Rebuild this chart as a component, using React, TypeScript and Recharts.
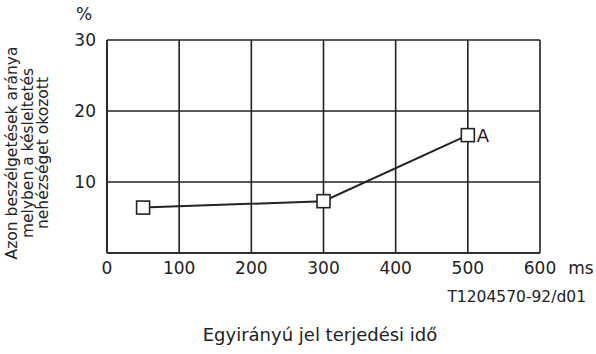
import React from 'react';
import { LineChart, Line, XAxis, YAxis, CartesianGrid, LabelList } from 'recharts';

const delays = [50, 300, 500];
const shares = [6.4, 7.3, 16.6];
const pointLabels = ['', '', 'A'];
const xTicks = [0, 100, 200, 300, 400, 500, 600];
const yTicks = [0, 10, 20, 30];
const yLabelLines = ['Azon beszélgetések aránya', 'melyben a késleltetés', 'nehézséget okozott'];
const xTitle = 'Egyirányú jel terjedési idő';
const refCode = 'T1204570-92/d01';

const data = delays.map((x, i) => ({ x, y: shares[i], label: pointLabels[i] }));

const FONT = '"DejaVu Sans", Arial, sans-serif';
const INK = '#222';

const yLabelX = [12, 28, 43];

const SquareDot = (props: any) => {
  const { cx, cy } = props;
  if (cx == null || cy == null) return null;
  const s = 13;
  return <rect x={cx - s / 2} y={cy - s / 2} width={s} height={s} fill="#fff" stroke={INK} strokeWidth={1.6} />;
};

export default function App() {
  return (
    <div style={{ position: 'absolute', left: 0, top: 0, width: 596, height: 354, background: '#fff' }}>
      <LineChart
        width={596}
        height={354}
        data={data}
        margin={{ top: 40, right: 56, bottom: 71, left: 0 }}
        style={{ fontFamily: FONT }}
      >
        <CartesianGrid stroke={INK} strokeWidth={1.6} />
        <XAxis
          type="number"
          dataKey="x"
          domain={[0, 600]}
          ticks={xTicks}
          height={30}
          tickLine={false}
          axisLine={{ stroke: INK, strokeWidth: 1.6 }}
          tickSize={0}
          tickMargin={9}
          tick={{ fill: INK, fontSize: 17, fontFamily: FONT }}
          interval={0}
        />
        <YAxis
          type="number"
          domain={[0, 30]}
          ticks={yTicks}
          width={107}
          tickLine={false}
          axisLine={{ stroke: INK, strokeWidth: 1.6 }}
          tickSize={0}
          tickMargin={11}
          tick={{ fill: INK, fontSize: 17, fontFamily: FONT }}
          tickFormatter={(v: number) => (v === 0 ? '' : String(v))}
          interval={0}
        />
        <Line
          type="linear"
          dataKey="y"
          stroke={INK}
          strokeWidth={2}
          dot={<SquareDot />}
          activeDot={false}
          isAnimationActive={false}
        >
          <LabelList dataKey="label" position="right" offset={9} fill={INK} fontSize={18} fontFamily={FONT} />
        </Line>
      </LineChart>
      <svg
        width={596}
        height={354}
        style={{ position: 'absolute', left: 0, top: 0, pointerEvents: 'none' }}
        fontFamily={FONT}
      >
        <text x={84} y={14} fontSize={17} fill={INK} textAnchor="middle" dominantBaseline="central">%</text>
        <text x={581} y={268} fontSize={17} fill={INK} textAnchor="middle" dominantBaseline="central">ms</text>
        <text x={586} y={297} fontSize={15.5} fill={INK} textAnchor="end" dominantBaseline="central">{refCode}</text>
        <text x={320} y={341} fontSize={18} fill={INK} textAnchor="middle">{xTitle}</text>
        {yLabelLines.map((line, i) => (
          <text
            key={i}
            x={0}
            y={0}
            fontSize={15.5}
            fill={INK}
            textAnchor="middle"
            dominantBaseline="central"
            transform={`translate(${yLabelX[i]},153) rotate(-90)`}
          >
            {line}
          </text>
        ))}
      </svg>
    </div>
  );
}
